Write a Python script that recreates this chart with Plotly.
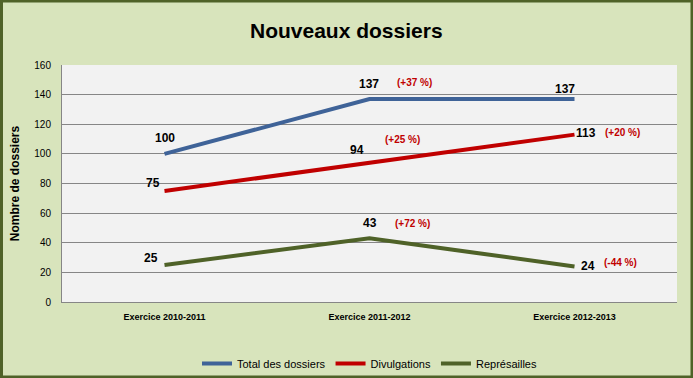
import plotly.graph_objects as go

categories = ["Exercice 2010-2011", "Exercice 2011-2012", "Exercice 2012-2013"]
total = [100, 137, 137]
divulgations = [75, 94, 113]
represailles = [25, 43, 24]
series_names = ["Total des dossiers", "Divulgations", "Représailles"]
pct_total = [None, "(+37 %)", None]
pct_div = [None, "(+25 %)", "(+20 %)"]
pct_rep = [None, "(+72 %)", "(-44 %)"]
y_ticks = [0, 20, 40, 60, 80, 100, 120, 140, 160]

colors = ["#3F6398", "#C00000", "#4F6228"]
FONT = "Liberation Sans, Arial, sans-serif"

W, H = 693, 378
L, R, T, B = 62, 16, 65, 76
PW, PH = W - L - R, H - T - B

fig = go.Figure()
for name, vals, col in zip(series_names, [total, divulgations, represailles], colors):
    fig.add_trace(go.Scatter(x=categories, y=vals, mode="lines", name=name,
                             line=dict(color=col, width=4)))

# label offsets (pixels, screen: +x right, +y down) per series/point
val_off = [
    [(0, -16), (-1, -15), (-10, -10)],
    [(-12, -8), (-13, -13), (11, -2)],
    [(-14, -7), (0, -15), (13, 0)],
]
pct_off = [
    [None, (45, -17), None],
    [None, (33, -23), (48, -2)],
    [None, (43, -15), (46, -4)],
]
annotations = []
for vals, offs, pcts, poffs in zip([total, divulgations, represailles], val_off,
                                   [pct_total, pct_div, pct_rep], pct_off):
    for i, (v, (dx, dy)) in enumerate(zip(vals, offs)):
        annotations.append(dict(x=categories[i], y=v, xref="x", yref="y", text=f"<b>{v}</b>",
                                showarrow=False, xshift=dx, yshift=-dy,
                                font=dict(family=FONT, size=12, color="#000000")))
        if pcts[i]:
            px, py = poffs[i]
            annotations.append(dict(x=categories[i], y=v, xref="x", yref="y", text=f"<b>{pcts[i]}</b>",
                                    showarrow=False, xshift=px, yshift=-py,
                                    font=dict(family=FONT, size=10, color="#C00000")))

annotations.append(dict(text="<b>Nouveaux dossiers</b>", x=0.5, y=1 + (T - 30) / PH,
                        xref="paper", yref="paper", showarrow=False, yanchor="middle",
                        xshift=(W / 2 - (L + PW / 2)),
                        font=dict(family=FONT, size=21, color="#000000")))

fig.update_layout(
    width=W, height=H,
    margin=dict(l=L, r=R, t=T, b=B, autoexpand=False),
    paper_bgcolor="#D8E4BC",
    plot_bgcolor="#F2F2F2",
    font=dict(family=FONT, color="#000000"),
    showlegend=True,
    legend=dict(orientation="h", x=0.5, xanchor="center", y=-(364 - 302 - 15) / PH, yanchor="top",
                font=dict(family=FONT, size=11), bgcolor="rgba(0,0,0,0)",
                itemwidth=30, tracegroupgap=0),
    xaxis=dict(type="category", range=[-0.5, 2.5], showgrid=False, showline=True, linecolor="#868686",
               tickfont=dict(family=FONT, size=9), ticks="", tickprefix="<b>", ticksuffix="</b>",
               ticklabelstandoff=6),
    yaxis=dict(range=[0, 160], tickvals=y_ticks, showgrid=True, gridcolor="#868686", gridwidth=1,
               showline=True, linecolor="#868686", zeroline=False,
               tickfont=dict(family=FONT, size=10), tickprefix="<b>", ticksuffix="</b>",
               ticklabelstandoff=8,
               title=dict(text="<b>Nombre de dossiers</b>", font=dict(family=FONT, size=12), standoff=12)),
    annotations=annotations,
    shapes=[dict(type="rect", xref="paper", yref="paper",
                 x0=-L / PW + 1.5 / PW, x1=1 + R / PW - 1.0 / PW,
                 y0=-B / PH + 1.0 / PH, y1=1 + T / PH - 1.0 / PH,
                 line=dict(color="#4F6228", width=3), layer="below")],
)
fig.write_html("out.html", config={"displayModeBar": False},
               post_script="document.body.style.margin='0';document.body.style.overflow='hidden';")
